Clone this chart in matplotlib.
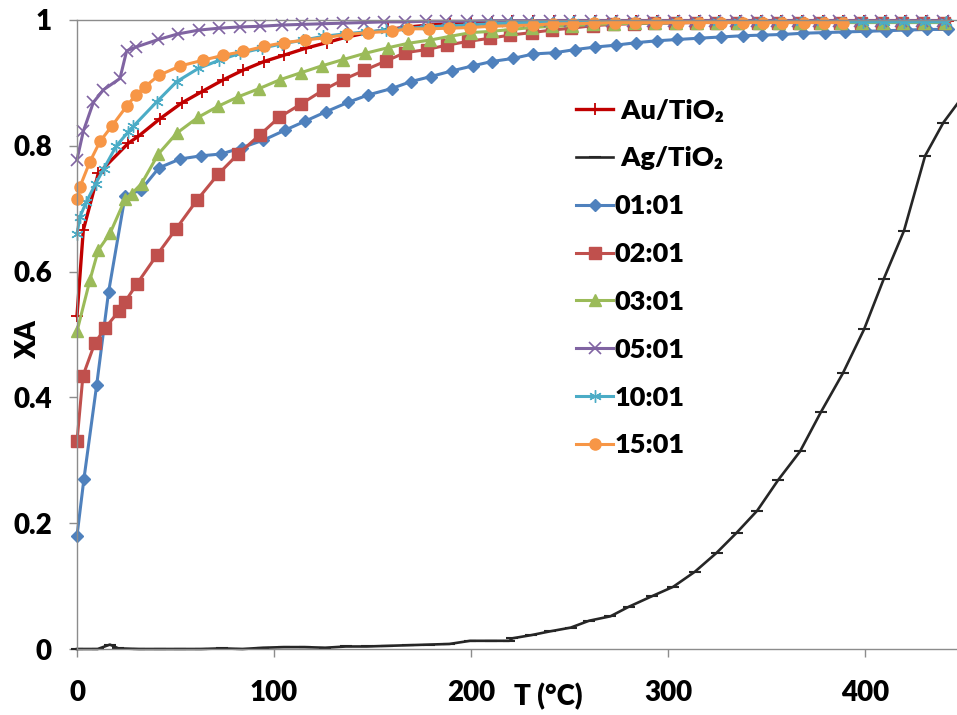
import matplotlib
matplotlib.use("Agg")
import matplotlib.pyplot as plt

plt.rcParams['font.family'] = ['Lato', 'DejaVu Sans']
plt.rcParams['font.weight'] = 'bold'

# ---------------- data ----------------
T_au = [0, 3.2, 10.8, 26, 31.1, 42.1, 53.1, 63.3, 74.3, 84.1, 94.9, 105, 116, 126.7, 136.9, 147.9,
        158, 168.5, 179, 189.5, 200, 210.5, 221, 231.5, 242, 252.5, 263, 273.5, 284, 294.5, 305,
        315.5, 326, 336.5, 347, 357.5, 368, 378.5, 389, 399.5, 410, 420.5, 431, 442]
X_au = [0.53, 0.666, 0.756, 0.804, 0.815, 0.843, 0.868, 0.886, 0.905, 0.920, 0.934, 0.944, 0.955, 0.964,
        0.973, 0.980, 0.985, 0.989, 0.992, 0.994, 0.996, 0.997, 0.998, 0.998, 0.999, 0.999, 0.999, 0.999,
        0.999, 0.999, 0.999, 0.999, 0.999, 0.999, 0.999, 0.999, 0.999, 0.999, 0.999, 0.999, 0.999, 0.999,
        0.999, 0.999]

T_ag = [0, 10.5, 16.7, 21, 31.5, 42, 52.5, 63, 73.5, 84, 94.5, 105, 115.5, 126, 136.5, 147, 157.5, 168,
        178.5, 189, 199.5, 210, 219.5, 221, 230.5, 240, 250.6, 260, 270.8, 280, 291.9, 302.7, 313.7,
        324.7, 334.9, 345.3, 356, 367, 377.5, 388.7, 399.5, 409.6, 419.8, 430.5, 439.8, 450]
X_ag = [0.0, 0.0, 0.007, 0.001, 0.0, 0.0, 0.0, 0.0, 0.001, 0.0, 0.002, 0.003, 0.003, 0.002, 0.004, 0.004,
        0.005, 0.006, 0.007, 0.008, 0.013, 0.013, 0.013, 0.017, 0.022, 0.028, 0.034, 0.045, 0.052, 0.067,
        0.084, 0.099, 0.123, 0.153, 0.185, 0.220, 0.269, 0.314, 0.376, 0.438, 0.508, 0.589, 0.665, 0.784,
        0.837, 0.880]

T_11 = [0, 3.5, 10, 16, 24.4, 32.5, 41.6, 52.3, 62.8, 73.2, 83.6, 94.6, 105.7, 115.7, 126.3, 137.5,
        147.9, 159.7, 169.4, 179.5, 190.2, 200.8, 210.5, 221.5, 231.6, 242.6, 252.8, 263, 273.5, 284,
        294.6, 304.7, 315.5, 326.7, 337.9, 347.8, 358.1, 368.6, 379.6, 389.8, 400.3, 410.7, 421.2, 431.6,
        442.3]
X_11 = [0.18, 0.27, 0.42, 0.567, 0.72, 0.73, 0.765, 0.779, 0.784, 0.787, 0.797, 0.809, 0.825, 0.839,
        0.854, 0.869, 0.881, 0.891, 0.902, 0.910, 0.919, 0.927, 0.934, 0.939, 0.946, 0.948, 0.953, 0.957,
        0.960, 0.964, 0.967, 0.969, 0.971, 0.973, 0.975, 0.976, 0.977, 0.979, 0.980, 0.981, 0.982, 0.983,
        0.984, 0.985, 0.985]

T_21 = [0, 3, 9, 14.2, 21.5, 24.4, 30.3, 40.5, 50.3, 61, 71.7, 81.8, 92.7, 102.5, 113.5, 124.7, 135,
        145.8, 157, 166.5, 177.5, 187.7, 198.6, 209.6, 219.8, 230.8, 241, 251, 262, 272, 282.5, 293,
        303.5, 314, 324.5, 335, 345.5, 356, 366.5, 377, 387.5, 398, 408.5, 419, 429.5, 440]
X_21 = [0.33, 0.434, 0.486, 0.51, 0.538, 0.552, 0.58, 0.626, 0.668, 0.714, 0.755, 0.787, 0.817, 0.845,
        0.866, 0.888, 0.905, 0.920, 0.935, 0.948, 0.953, 0.960, 0.966, 0.971, 0.976, 0.980, 0.984, 0.987,
        0.991, 0.993, 0.994, 0.995, 0.995, 0.996, 0.996, 0.996, 0.996, 0.996, 0.996, 0.996, 0.996, 0.996,
        0.996, 0.996, 0.996, 0.996]

T_31 = [0, 6.6, 10.8, 16.8, 24.4, 27.8, 32.8, 41.3, 50.6, 61.3, 71.7, 81.9, 92.5, 103, 113.5, 124.2,
        135, 146.2, 158, 168.2, 179, 189.3, 200, 210.5, 220.5, 230.8, 241, 251.5, 262, 272.5, 283, 293.5,
        304, 314.5, 325, 335.5, 346, 356.5, 367, 377.5, 388, 398.5, 409, 419.5, 430, 440.5]
X_31 = [0.505, 0.587, 0.634, 0.661, 0.715, 0.724, 0.740, 0.787, 0.820, 0.845, 0.863, 0.878, 0.891, 0.905,
        0.916, 0.927, 0.937, 0.947, 0.956, 0.963, 0.968, 0.974, 0.980, 0.982, 0.985, 0.988, 0.990, 0.991,
        0.993, 0.994, 0.995, 0.995, 0.996, 0.996, 0.996, 0.996, 0.996, 0.996, 0.996, 0.996, 0.996, 0.996,
        0.996, 0.996, 0.996, 0.996]

T_51 = [0, 3.2, 8.3, 13.4, 21.8, 25.2, 29.9, 41.3, 51.4, 62, 72.2, 82.7, 92.9, 103.9, 114, 124.5, 135,
        145.5, 156, 166.5, 177, 187.5, 198, 208.5, 219, 229.5, 240, 250.5, 261, 271.5, 282, 292.5, 303,
        313.5, 324, 334.5, 345, 355.5, 366, 376.5, 387, 397.5, 408, 418.5, 429, 439.5]
X_51 = [0.778, 0.823, 0.869, 0.889, 0.907, 0.951, 0.957, 0.969, 0.978, 0.984, 0.987, 0.989, 0.990, 0.992,
        0.993, 0.994, 0.995, 0.996, 0.997, 0.997, 0.998, 0.998, 0.998, 0.999, 0.999, 0.999, 0.999, 0.999,
        0.999, 0.999, 0.999, 0.999, 0.999, 0.999, 0.999, 0.999, 0.999, 0.999, 0.999, 0.999, 0.999, 0.999,
        0.999, 0.999, 0.999, 0.999]

T_101 = [0, 1.5, 4.6, 9.5, 13.5, 20, 26, 28.6, 40.5, 50.6, 61.6, 72.2, 82.7, 93.7, 103.9, 114.9, 125,
         136, 146.5, 157, 167.5, 178, 189, 199.5, 210, 220.5, 231, 241.5, 252, 262.5, 273, 283.5, 294,
         304.5, 315, 325.5, 336, 346.5, 357, 367.5, 378, 388.5, 399, 409.5, 420, 430.5, 441]
X_101 = [0.66, 0.687, 0.71, 0.74, 0.763, 0.80, 0.822, 0.831, 0.870, 0.902, 0.923, 0.936, 0.947, 0.955,
         0.962, 0.968, 0.974, 0.978, 0.981, 0.984, 0.987, 0.989, 0.991, 0.992, 0.994, 0.995, 0.996, 0.996,
         0.997, 0.997, 0.997, 0.997, 0.997, 0.997, 0.997, 0.997, 0.997, 0.997, 0.997, 0.997, 0.997, 0.997,
         0.997, 0.997, 0.997, 0.997, 0.997]

T_151 = [0, 1.5, 6.6, 11.7, 17.6, 25.2, 29.9, 34.5, 41.5, 52.5, 63.8, 74.3, 84.4, 94.9, 105, 115.7,
         126.2, 136.9, 147.9, 159.7, 168, 178.5, 189, 199.5, 210, 221, 231.5, 241.8, 252, 262.5, 273,
         283.5, 294, 305, 315.5, 327, 338, 348, 358, 369, 379, 389]
X_151 = [0.715, 0.735, 0.775, 0.807, 0.831, 0.863, 0.881, 0.894, 0.912, 0.927, 0.936, 0.944, 0.950,
         0.958, 0.964, 0.968, 0.972, 0.977, 0.980, 0.982, 0.986, 0.986, 0.987, 0.988, 0.990, 0.991, 0.992,
         0.994, 0.994, 0.995, 0.996, 0.996, 0.996, 0.996, 0.996, 0.996, 0.996, 0.996, 0.996, 0.996,
         0.996, 0.996]

x_ticks = [0, 100, 200, 300, 400]
y_ticks = [0, 0.2, 0.4, 0.6, 0.8, 1.0]
y_tick_labels = ['0', '0.2', '0.4', '0.6', '0.8', '1']

# ---------------- figure ----------------
W, H = 957, 715
fig = plt.figure(figsize=(W / 100, H / 100), dpi=100)
ax = fig.add_axes([77 / W, 66 / H, 1 - 77 / W, 629 / H])

series = [
    (" Au/TiO₂", T_au, X_au, dict(color='#C00000', marker='+', ms=9, mew=1.3, lw=2.4)),
    (" Ag/TiO₂", T_ag, X_ag, dict(color='#262626', marker='_', ms=8, mew=1.5, lw=1.9)),
    ("01:01", T_11, X_11, dict(color='#4F81BD', marker='D', ms=6, lw=2.2)),
    ("02:01", T_21, X_21, dict(color='#C0504D', marker='s', ms=8, lw=2.2)),
    ("03:01", T_31, X_31, dict(color='#9BBB59', marker='^', ms=8.5, lw=2.2)),
    ("05:01", T_51, X_51, dict(color='#8064A2', marker='x', ms=8.5, mew=1.2, lw=2.2)),
    ("10:01", T_101, X_101, dict(color='#4BACC6', marker=(6, 2, 0), ms=9, mew=1.0, lw=2.2)),
    ("15:01", T_151, X_151, dict(color='#F79646', marker='o', ms=8, lw=2.2)),
]

for label, xs, ys, st in series:
    ax.plot(xs, ys, label=label, clip_on=False, **st)

ax.set_xlim(0, 446.7)
ax.set_ylim(0, 1)

ax.spines['right'].set_visible(False)
for s in ['left', 'bottom', 'top']:
    ax.spines[s].set_color('#8C8C8C')
    ax.spines[s].set_linewidth(1.0)

ax.set_xticks(x_ticks)
ax.set_xticklabels([str(v) for v in x_ticks])
ax.set_yticks(y_ticks)
ax.set_yticklabels(y_tick_labels)
ax.tick_params(axis='y', direction='out', length=6, width=1, color='#8C8C8C', pad=12,
               labelsize=20)
ax.tick_params(axis='x', direction='out', length=6, width=1, color='#8C8C8C', pad=16,
               labelsize=20)
for lab in ax.get_xticklabels() + ax.get_yticklabels():
    lab.set_fontweight('heavy')

fig.text(28 / W, 1 - 340 / H, 'XA', rotation=90, ha='center', va='center',
         fontsize=20, fontweight='heavy')
fig.text(548 / W, 1 - 697 / H, 'T (°C)', ha='center', va='center',
         fontsize=20, fontweight='heavy')

leg = ax.legend(loc='upper left', bbox_to_anchor=(562 / W, 1 - 85 / H),
                bbox_transform=fig.transFigure, frameon=False, borderpad=0,
                handlelength=1.4, handletextpad=0.05, labelspacing=0.88,
                numpoints=1, prop=dict(size=19.5, weight='heavy'))

fig.savefig('out.png', dpi=100)
